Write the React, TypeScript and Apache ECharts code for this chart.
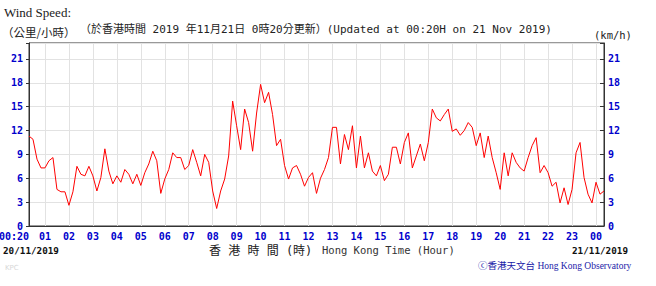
import React, { useEffect, useRef } from "react";
import * as echarts from "echarts";

// 10-minute wind speed (km/h) from 20/11/2019 00:20 to 21/11/2019 00:20
const windSpeed: number[] = [
  11.3, 10.9, 8.4, 7.3,
  7.3, 8.2, 8.6, 4.6, 4.3, 4.3,
  2.6, 4.3, 7.5, 6.5, 6.3, 7.5,
  6.3, 4.4, 6.1, 9.7, 6.9, 5.3,
  6.3, 5.5, 7.1, 6.5, 5.3, 6.5,
  5.1, 6.7, 7.8, 9.4, 8.2, 4.1,
  5.9, 7.1, 9.2, 8.6, 8.6, 7.1,
  7.6, 9.6, 8.0, 6.3, 9.0, 8.0,
  4.4, 2.2, 4.4, 5.9, 8.8, 15.7,
  12.6, 9.6, 14.7, 13.0, 9.4, 14.2,
  17.8, 15.5, 16.8, 14.0, 10.1, 10.9,
  7.6, 5.9, 7.3, 7.6, 6.5, 5.0,
  6.1, 6.7, 4.1, 6.0, 7.1, 8.6,
  12.4, 12.4, 7.8, 11.5, 9.6, 12.6,
  7.3, 11.3, 7.3, 9.2, 6.9, 6.3,
  7.6, 5.7, 6.5, 9.9, 9.9, 7.8,
  10.5, 11.7, 7.3, 8.8, 10.3, 8.2,
  10.5, 14.7, 13.6, 13.2, 14.0, 14.7,
  11.9, 12.2, 11.4, 12.0, 13.0, 12.4,
  10.1, 11.7, 8.6, 11.3, 8.6, 6.7,
  4.6, 9.2, 6.3, 9.2, 8.0, 7.3,
  6.9, 8.6, 10.1, 11.1, 6.7, 7.6,
  6.7, 5.0, 5.5, 2.9, 4.8, 2.7,
  4.6, 9.2, 10.5, 6.1, 4.0, 2.9,
  5.5, 4.0, 4.4,
];

// time categories, one every 10 minutes starting 00:20
const startMinute = 20;
const stepMinutes = 10;
const times: string[] = windSpeed.map((_, i) => {
  const m = startMinute + i * stepMinutes;
  const hh = Math.floor(m / 60) % 24;
  const mm = m % 60;
  return String(hh).padStart(2, "0") + ":" + String(mm).padStart(2, "0");
});

const yMin = 0;
const yMax = 23;
const yStep = 3;

const titleText = "Wind Speed:";
const unitCn = "（公里/小時）";
const updateText = "（於香港時間 2019 年11月21日 0時20分更新）(Updated at 00:20H on 21 Nov 2019)";
const unitEn = "(km/h)";
const startDate = "20/11/2019";
const endDate = "21/11/2019";
const axisTitleCn = "香 港 時 間 (時)";
const axisTitleEn = "Hong Kong Time (Hour)";
const credit = "ⓒ香港天文台 Hong Kong Observatory";

const BLUE = "#0000cc";
const MONO = "'DejaVu Sans Mono', 'Noto Sans CJK TC', monospace";

export default function App() {
  const ref = useRef<HTMLDivElement>(null);
  useEffect(() => {
    if (!ref.current) return;
    const chart = echarts.init(ref.current, undefined, { renderer: "svg" });
    const yLabel = {
      color: BLUE,
      fontWeight: "bold" as const,
      fontFamily: MONO,
      fontSize: 10,
      formatter: (v: number) => (v % yStep === 0 ? String(v) : ""),
    };
    chart.setOption({
      animation: false,
      backgroundColor: "#ffffff",
      grid: {
        left: 29,
        right: 52,
        top: 43,
        bottom: 60,
        show: true,
        borderColor: "#333",
        borderWidth: 1,
        containLabel: false,
        outerBoundsMode: "none",
      },
      xAxis: {
        type: "category",
        data: times,
        boundaryGap: false,
        axisLine: { show: true, lineStyle: { color: "#333", width: 1 } },
        axisTick: { show: false },
        axisLabel: {
          interval: (i: number, v: string) => i === 0 || v.endsWith(":00"),
          formatter: (v: string, i: number) => (i === 0 ? "{first|" + v + "}" : v.slice(0, 2)),
          color: BLUE,
          fontWeight: "bold",
          fontFamily: MONO,
          fontSize: 10,
          margin: 5,
          alignMinLabel: "right",
          rich: {
            first: {
              color: BLUE,
              fontWeight: "bold",
              fontFamily: MONO,
              fontSize: 10,
              padding: [0, 0, 0, 6],
            },
          },
        },
        splitLine: {
          show: true,
          interval: (i: number, v: string) => v.endsWith(":00"),
          lineStyle: { color: "#e2e2e2", width: 1 },
        },
      },
      yAxis: [
        {
          type: "value",
          min: yMin,
          max: yMax,
          interval: yStep,
          position: "left",
          axisLine: { show: true, lineStyle: { color: "#333" } },
          axisTick: { show: true, length: 3, lineStyle: { color: "#333" } },
          axisLabel: { ...yLabel, margin: 6 },
          splitLine: { show: true, lineStyle: { color: "#e2e2e2", width: 1 } },
        },
        {
          type: "value",
          min: yMin,
          max: yMax,
          interval: yStep,
          position: "right",
          axisLine: { show: true, lineStyle: { color: "#333" } },
          axisTick: { show: true, inside: true, length: 4, lineStyle: { color: "#333" } },
          axisLabel: { ...yLabel, margin: 4 },
          splitLine: { show: false },
        },
      ],
      series: [
        {
          type: "line",
          data: windSpeed,
          xAxisIndex: 0,
          yAxisIndex: 0,
          showSymbol: false,
          symbol: "none",
          lineStyle: { color: "#ff0000", width: 1 },
          z: 5,
        },
      ],
      graphic: [
        { type: "text", x: 4, y: 12, style: { text: titleText, font: "13px 'Liberation Serif', serif", fill: "#222", verticalAlign: "middle" } },
        { type: "text", x: 2, y: 32, style: { text: unitCn, font: "11.5px 'Noto Sans CJK TC', sans-serif", fill: "#222", verticalAlign: "middle" } },
        { type: "text", x: 80, y: 29, style: { text: updateText, font: "11px " + MONO, fill: "#222", verticalAlign: "middle" } },
        { type: "text", x: 594, y: 34.5, style: { text: unitEn, font: "10.5px " + MONO, fill: "#222", verticalAlign: "middle" } },
        { type: "text", x: 3, y: 250, style: { text: startDate, font: "bold 9.3px " + MONO, fill: "#111", verticalAlign: "middle" } },
        { type: "text", x: 628, y: 250, style: { text: endDate, font: "bold 9.3px " + MONO, fill: "#111", verticalAlign: "middle", align: "right" } },
        { type: "text", x: 209, y: 251, style: { text: axisTitleCn, font: "12px " + MONO, fill: "#222", verticalAlign: "middle" } },
        { type: "text", x: 322, y: 250, style: { text: axisTitleEn, font: "10.5px " + MONO, fill: "#333", verticalAlign: "middle" } },
        { type: "text", x: 478, y: 265.5, style: { text: credit, font: "9.5px 'Liberation Serif', 'Noto Sans CJK TC', serif", fill: "#1a1aa8", verticalAlign: "middle" } },
        { type: "text", x: 5, y: 268, style: { text: "KPC", font: "7px 'DejaVu Sans', sans-serif", fill: "#d8d8d8", verticalAlign: "middle" } },
      ],
    });
    return () => chart.dispose();
  }, []);
  return (
    <div
      ref={ref}
      style={{ position: "fixed", left: 0, top: 0, width: 656, height: 286, background: "#fff" }}
    />
  );
}
